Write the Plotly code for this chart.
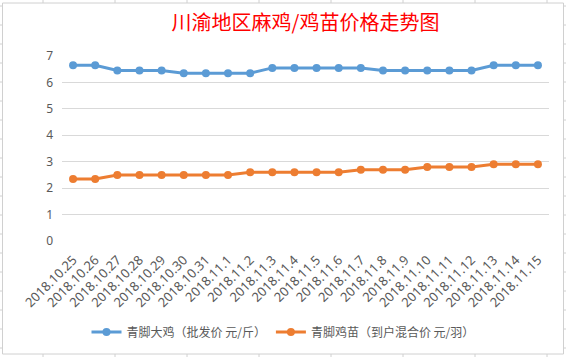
import plotly.graph_objects as go

dates = ["2018.10.25", "2018.10.26", "2018.10.27", "2018.10.28", "2018.10.29", "2018.10.30",
         "2018.10.31", "2018.11.1", "2018.11.2", "2018.11.3", "2018.11.4", "2018.11.5",
         "2018.11.6", "2018.11.7", "2018.11.8", "2018.11.9", "2018.11.10", "2018.11.11",
         "2018.11.12", "2018.11.13", "2018.11.14", "2018.11.15"]
chicken = [6.65, 6.65, 6.45, 6.45, 6.45, 6.35, 6.35, 6.35, 6.35, 6.55, 6.55, 6.55,
           6.55, 6.55, 6.45, 6.45, 6.45, 6.45, 6.45, 6.65, 6.65, 6.65]
chick = [2.35, 2.35, 2.5, 2.5, 2.5, 2.5, 2.5, 2.5, 2.6, 2.6, 2.6, 2.6,
         2.6, 2.7, 2.7, 2.7, 2.8, 2.8, 2.8, 2.9, 2.9, 2.9]
name1 = "青脚大鸡（批发价 元/斤）"
name2 = "青脚鸡苗（到户混合价 元/羽）"
title = "川渝地区麻鸡/鸡苗价格走势图"

W, H = 566, 357
ML, MR, MT, MB = 62, 17, 56, 116
PW, PH = W - ML - MR, H - MT - MB

def px(x):
    return (x - ML) / PW

def py(y):
    return (H - MB - y) / PH

fig = go.Figure()
fig.add_trace(go.Scatter(x=dates, y=chicken, name=name1, mode="lines+markers",
                         line=dict(color="#5B9BD5", width=3),
                         marker=dict(size=8, color="#5B9BD5")))
fig.add_trace(go.Scatter(x=dates, y=chick, name=name2, mode="lines+markers",
                         line=dict(color="#ED7D31", width=3),
                         marker=dict(size=8, color="#ED7D31")))

shapes = []
# chart area border
shapes.append(dict(type="rect", xref="paper", yref="paper",
                   x0=px(2.5), x1=px(563.5), y0=py(3), y1=py(354),
                   line=dict(color="#d0d0d0", width=1), layer="below"))
# spreadsheet cell ticks outside chart area
for yy in range(6, 354, 19):
    shapes.append(dict(type="line", xref="paper", yref="paper",
                       x0=px(0), x1=px(2.5), y0=py(yy), y1=py(yy),
                       line=dict(color="#d0d0d0", width=1)))
    shapes.append(dict(type="line", xref="paper", yref="paper",
                       x0=px(563.5), x1=px(566), y0=py(yy), y1=py(yy),
                       line=dict(color="#d0d0d0", width=1)))
for xx in range(43, 563, 72):
    shapes.append(dict(type="line", xref="paper", yref="paper",
                       x0=px(xx), x1=px(xx), y0=py(0), y1=py(3),
                       line=dict(color="#d0d0d0", width=1)))
    shapes.append(dict(type="line", xref="paper", yref="paper",
                       x0=px(xx), x1=px(xx), y0=py(354), y1=py(357),
                       line=dict(color="#d0d0d0", width=1)))

fig.update_layout(
    width=W, height=H,
    margin=dict(l=ML, r=MR, t=MT, b=MB),
    paper_bgcolor="white", plot_bgcolor="white",
    font=dict(family="Noto Sans CJK SC, Noto Sans, sans-serif", color="#595959"),
    title=dict(text=title, x=0.5, xanchor="center", xref="paper",
               y=1 - 23 / H, yanchor="middle",
               font=dict(size=20, color="#FF0000", family="Noto Sans CJK SC")),
    showlegend=True,
    legend=dict(orientation="h", x=0.5, xanchor="center", xref="container",
                y=1 - 332 / H, yanchor="middle", yref="container",
                font=dict(size=12, color="#595959"), itemwidth=30),
    xaxis=dict(type="category", range=[-0.5, len(dates) - 0.5], tickangle=-45,
               showgrid=False, showline=False, ticks="", automargin=False,
               ticklabelstandoff=8,
               tickfont=dict(size=13, color="#595959", family="Noto Sans, sans-serif")),
    yaxis=dict(range=[0, 7], dtick=1, showgrid=True, gridcolor="#d9d9d9", gridwidth=1,
               zeroline=False, showline=False, ticks="", ticklabelstandoff=8,
               automargin=False,
               tickfont=dict(size=12, color="#595959", family="Noto Sans, sans-serif")),
    shapes=shapes,
)

fig.write_html("out.html", config={"displayModeBar": False},
               post_script="document.body.style.margin='0';document.body.style.padding='0';")
